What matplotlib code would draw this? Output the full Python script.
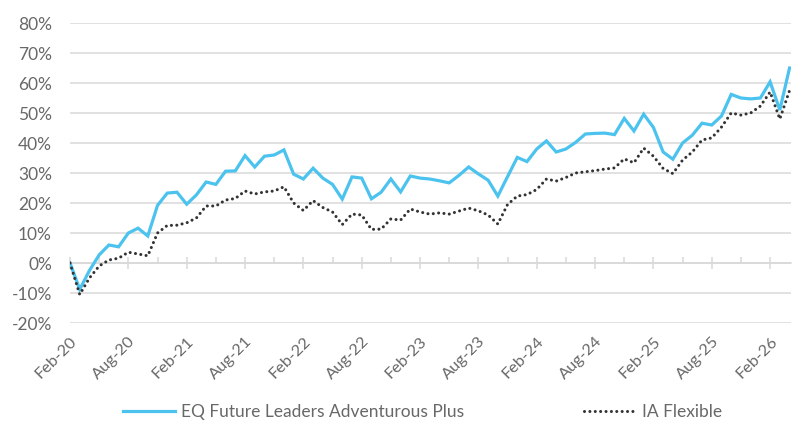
import matplotlib
matplotlib.use("Agg")
import matplotlib.pyplot as plt
from matplotlib.lines import Line2D
from matplotlib.ticker import MultipleLocator, FuncFormatter

# ---- data ----
tick_labels = ["Feb-20", "Aug-20", "Feb-21", "Aug-21", "Feb-22", "Aug-22", "Feb-23",
               "Aug-23", "Feb-24", "Aug-24", "Feb-25", "Aug-25", "Feb-26"]
eq_values = [0, -8.8, -2.5, 2.7, 6, 5.4, 10, 11.6, 9, 19.2, 23.3, 23.6,
             19.6, 22.7, 27, 26.2, 30.6, 30.7, 35.8, 32, 35.6, 36, 37.7, 29.6,
             28, 31.6, 28.3, 26.2, 21.3, 28.7, 28.3, 21.4, 23.6, 28, 23.7, 29,
             28.3, 28, 27.4, 26.7, 29.2, 32, 29.7, 27.6, 22.3, 28.8, 35.2, 33.8,
             38, 40.7, 37, 38, 40.2, 43, 43.2, 43.3, 42.8, 48.2, 44, 49.6,
             45.2, 37, 34.6, 40, 42.6, 46.6, 46, 49, 56.2, 55, 54.7, 55,
             60.4, 51, 65]
ia_values = [0, -10.5, -5, -1, 1, 1.6, 3.6, 3, 2.4, 10, 12.5, 12.6,
             13.4, 15, 19, 19, 21, 21.5, 24, 23, 23.7, 24, 25.4, 20,
             17.5, 20.8, 18.5, 17, 12.8, 16.3, 16, 11.2, 11.3, 14.7, 14.3, 18,
             17, 16.3, 16.7, 16.3, 17.3, 18.3, 17.4, 16, 13, 19.5, 22.3, 22.8,
             24.5, 28, 27.3, 28.5, 30, 30.4, 30.8, 31.3, 31.7, 34.7, 33.4, 38.3,
             35.6, 31.5, 29.8, 34.3, 37, 41, 41.7, 45.3, 50, 49.3, 50, 52.3,
             57, 48, 57.5]
series_names = ["EQ Future Leaders Adventurous Plus", "IA Flexible"]

# ---- style ----
plt.rcParams["font.family"] = ["Lato", "DejaVu Sans"]
TEXT = "#686868"
GRID = "#d9d9d9"
BLUE = "#4BC3EE"
DARK = "#333333"

W, H = 792, 421
fig = plt.figure(figsize=(W / 100, H / 100), dpi=100)
ax = fig.add_axes([70 / W, (H - 323) / H, (791 - 70) / W, 300 / H])

months = list(range(len(eq_values)))
ax.plot(months, eq_values, color=BLUE, lw=2.3, solid_joinstyle="miter", zorder=3)
ax.plot(months, ia_values, color=DARK, lw=2.2, linestyle=(0, (0.01, 1.75)),
        dash_capstyle="round", zorder=3)

ax.set_xlim(0, 74.15)
ax.set_ylim(-20, 80)
ax.yaxis.set_major_locator(MultipleLocator(10))
ax.yaxis.set_major_formatter(FuncFormatter(lambda v, p: f"{v:.0f}%"))
ax.grid(axis="y", color=GRID, lw=1.1, zorder=0)
ax.grid(axis="x", visible=False)
for s in ax.spines.values():
    s.set_visible(False)

ax.tick_params(axis="y", length=0, pad=13, labelsize=12.5, labelcolor=TEXT)
ax.set_xticks(range(0, 6 * len(tick_labels), 6))
ax.set_xticklabels(tick_labels, rotation=45, ha="right", va="top",
                   rotation_mode="anchor")
ax.tick_params(axis="x", length=0, pad=8, labelsize=11.8, labelcolor=TEXT)

# axis line with ticks at 0%
sec = ax.secondary_xaxis(0.2)
sec.set_xticks(range(0, 6 * len(tick_labels), 6))
sec.set_xticks(range(3, 6 * len(tick_labels), 6), minor=True)
sec.tick_params(axis="x", which="major", direction="inout", length=8, width=1.1,
                color=GRID, labelbottom=False, labeltop=False)
sec.tick_params(axis="x", which="minor", direction="in", length=4, width=1.1,
                color=GRID)
sec.set_xticklabels([])
sec.spines["bottom"].set_color(GRID)
sec.spines["bottom"].set_linewidth(1.1)
for k in ("top", "left", "right"):
    sec.spines[k].set_visible(False)

# legend
h1 = Line2D([], [], color=BLUE, lw=2.3)
h2 = Line2D([], [], color=DARK, lw=2.2, linestyle=(0, (0.01, 1.75)),
            dash_capstyle="round")
legend_font = {"size": 12.5}
leg1 = fig.legend([h1], [series_names[0]], loc="center left",
                  bbox_to_anchor=(107 / W, (H - 412) / H), frameon=False,
                  prop=legend_font, handlelength=3.0, handletextpad=0.35,
                  labelcolor=TEXT)
leg2 = fig.legend([h2], [series_names[1]], loc="center left",
                  bbox_to_anchor=(568 / W, (H - 412) / H), frameon=False,
                  prop=legend_font, handlelength=3.0, handletextpad=0.35,
                  labelcolor=TEXT)

fig.savefig("out.png", dpi=100)
